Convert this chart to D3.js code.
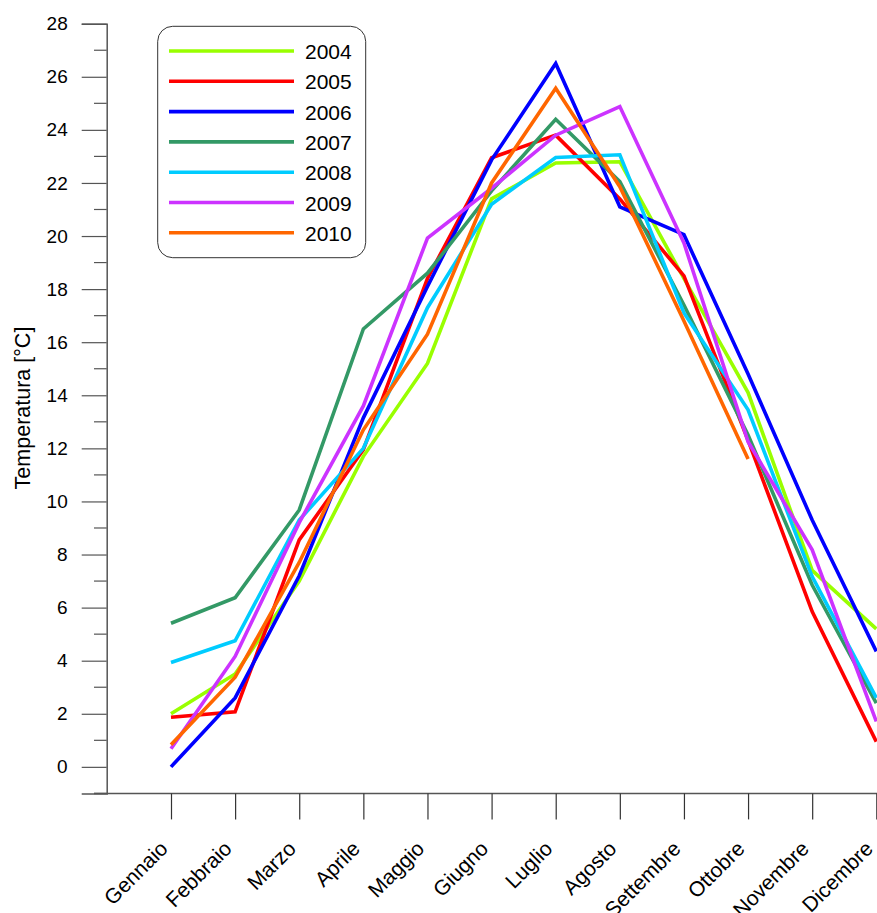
<!DOCTYPE html>
<html>
<head>
<meta charset="utf-8">
<script src="https://cdn.jsdelivr.net/npm/d3@7"></script>
<style>
  html, body { margin: 0; padding: 0; background: #fff; }
  svg { display: block; font-family: "Liberation Sans", Arial, sans-serif; }
</style>
</head>
<body>
<svg id="chart" width="877" height="913"></svg>
<script>
// mesi dell'anno (asse x)
const months = ["Gennaio", "Febbraio", "Marzo", "Aprile", "Maggio", "Giugno",
  "Luglio", "Agosto", "Settembre", "Ottobre", "Novembre", "Dicembre"];

const years = ["2004", "2005", "2006", "2007", "2008", "2009", "2010"];
const colors = ["#99ff00", "#ff0000", "#0000ff", "#339966", "#00ccff", "#cc33ff", "#ff6600"];

// temperature medie mensili [°C]
const t2004 = [2.0, 3.5, 7.0, 11.7, 15.2, 21.4, 22.75, 22.8, 18.4, 14.1, 7.4, 5.2];
const t2005 = [1.87, 2.07, 8.55, 11.95, 18.4, 22.95, 23.8, 21.4, 18.5, 12.3, 5.85, 0.95];
const t2006 = [0.0, 2.6, 7.2, 13.15, 18.1, 22.87, 26.5, 21.1, 20.05, 14.8, 9.3, 4.35];
const t2007 = [5.41, 6.37, 9.68, 16.5, 18.6, 21.7, 24.4, 22.05, 17.4, 12.5, 6.85, 2.4];
const t2008 = [3.93, 4.75, 9.3, 12.0, 17.3, 21.2, 22.96, 23.06, 17.1, 13.45, 7.17, 2.6];
const t2009 = [0.68, 4.16, 9.2, 13.6, 19.92, 21.8, 23.8, 24.88, 19.74, 12.25, 8.18, 1.71];
const t2010 = [0.83, 3.38, 7.7, 12.7, 16.3, 22.0, 25.57, 21.86, 16.8, 11.6, null, null];

const yTicks = d3.range(0, 29, 2);
const yMinorTicks = d3.range(-1, 28, 2);

const series = [t2004, t2005, t2006, t2007, t2008, t2009, t2010];

const svg = d3.select("#chart");

const x = d3.scalePoint()
  .domain(months)
  .range([171, 876.3]);

const y = d3.scaleLinear()
  .domain([-1, 28])
  .range([793.4, 23.7]);

const axisColor = "#555";

// asse y
const yAxis = svg.append("g")
  .attr("transform", "translate(106.7,0)")
  .call(d3.axisLeft(y).tickValues(yTicks).tickSize(25).tickPadding(14).tickFormat(d3.format("d")));
yAxis.select(".domain").attr("stroke", axisColor).attr("stroke-width", 1.5);
yAxis.selectAll(".tick line").attr("stroke", axisColor).attr("stroke-width", 1.2);
yAxis.selectAll(".tick text").attr("font-size", 19).attr("fill", "#000")
  .attr("font-family", "Liberation Sans, Arial, sans-serif");

svg.append("g")
  .selectAll("line")
  .data(yMinorTicks)
  .join("line")
  .attr("x1", 94).attr("x2", 106.7)
  .attr("y1", d => y(d)).attr("y2", d => y(d))
  .attr("stroke", axisColor).attr("stroke-width", 1.2);

// asse x
svg.append("line")
  .attr("x1", 94).attr("x2", 877)
  .attr("y1", y(-1)).attr("y2", y(-1))
  .attr("stroke", axisColor).attr("stroke-width", 1.5);

const xAxis = svg.append("g")
  .attr("transform", `translate(0,${y(-1)})`)
  .call(d3.axisBottom(x).tickSize(26).tickFormat(""));
xAxis.select(".domain").remove();
xAxis.selectAll(".tick line").attr("stroke", "#333").attr("stroke-width", 1.2);

svg.append("g")
  .selectAll("text")
  .data(months)
  .join("text")
  .attr("transform", d => `translate(${x(d) - 2},${850}) rotate(-45)`)
  .attr("text-anchor", "end")
  .attr("font-size", 21)
  .attr("fill", "#000")
  .text(d => d);

// titolo asse y
svg.append("text")
  .attr("transform", "translate(29.5,408) rotate(-90)")
  .attr("text-anchor", "middle")
  .attr("font-size", 21.5)
  .attr("fill", "#000")
  .text("Temperatura [°C]");

// linee
const line = d3.line()
  .defined(d => d.v !== null)
  .x(d => x(d.m))
  .y(d => y(d.v));

svg.append("g")
  .selectAll("path")
  .data(series)
  .join("path")
  .attr("d", s => line(s.map((v, i) => ({ m: months[i], v: v }))))
  .attr("fill", "none")
  .attr("stroke", (s, i) => colors[i])
  .attr("stroke-width", 3.6)
  .attr("stroke-linejoin", "miter");

// legenda
const legend = svg.append("g");
legend.append("rect")
  .attr("x", 157.7).attr("y", 26.3)
  .attr("width", 208).attr("height", 231.4)
  .attr("rx", 15).attr("ry", 15)
  .attr("fill", "#fff")
  .attr("stroke", "#333")
  .attr("stroke-width", 1);

const items = legend.selectAll("g.item")
  .data(years)
  .join("g")
  .attr("class", "item")
  .attr("transform", (d, i) => `translate(0,${51 + i * 30.3})`);

items.append("line")
  .attr("x1", 169).attr("x2", 294)
  .attr("stroke", (d, i) => colors[i])
  .attr("stroke-width", 3.6);

items.append("text")
  .attr("x", 305)
  .attr("y", 8)
  .attr("font-size", 21)
  .attr("fill", "#000")
  .text(d => d);
</script>
</body>
</html>
